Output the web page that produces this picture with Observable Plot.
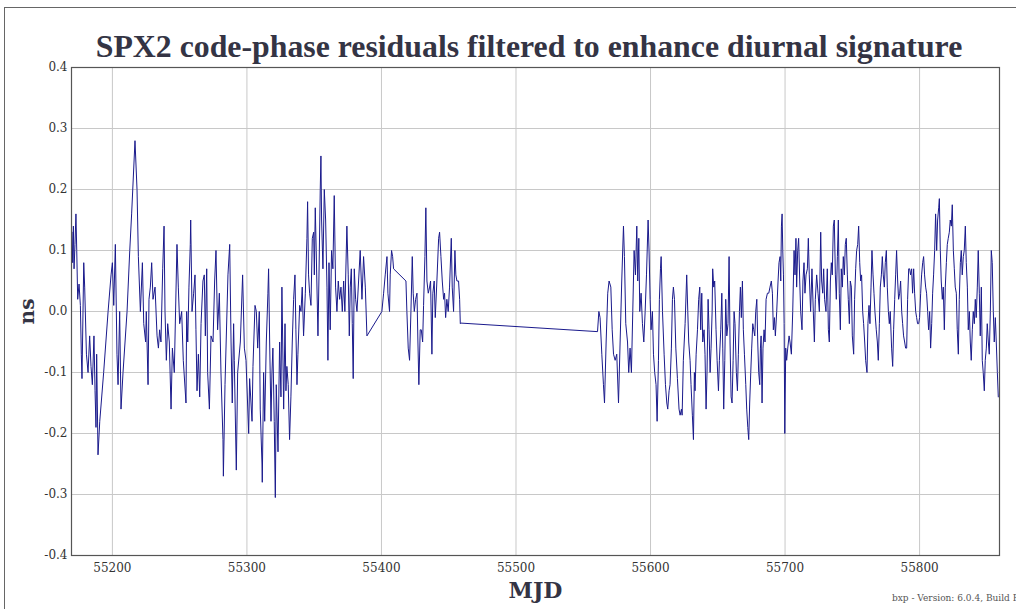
<!DOCTYPE html>
<html>
<head>
<meta charset="utf-8">
<script src="https://cdn.jsdelivr.net/npm/d3@7"></script>
<script src="https://cdn.jsdelivr.net/npm/@observablehq/plot@0.6"></script>
<style>
  html, body { margin: 0; padding: 0; background: #fff; overflow: hidden; }
  #wrap { position: relative; width: 1016px; height: 609px; overflow: hidden; }
  #border { position: absolute; left: 4px; top: 7px; width: 1200px; height: 800px; border-left: 1px solid #666; border-top: 1px solid #666; pointer-events: none; }
  #title { height: 60px; box-sizing: border-box; padding-top: 31px; line-height: 31px; text-align: center; padding-left: 42px;
           font-family: "Liberation Serif", serif; font-weight: bold; font-size: 31.8px; color: #343444; white-space: nowrap; }
  #credit { position: absolute; left: 892px; top: 593px; font-family: "DejaVu Serif", serif; font-size: 9px; color: #555; white-space: nowrap; }
  #chart svg { display: block; }
</style>
</head>
<body>
<div id="wrap">
  <div id="border"></div>
  <div id="title">SPX2 code-phase residuals filtered to enhance diurnal signature</div>
  <div id="chart"></div>
  <div id="credit">bxp - Version: 6.0.4, Build R</div>
</div>
<script>
const xTicks = [55200, 55300, 55400, 55500, 55600, 55700, 55800];
const yTicks = [-0.4, -0.3, -0.2, -0.1, 0.0, 0.1, 0.2, 0.3, 0.4];
const xLabel = "MJD";
const yLabel = "ns";

const mjd = [
55170.0,55170.5,55171.0,55171.5,55172.2,55172.9,55173.5,55174.2,55175.2,55176.2,55176.9,55177.4,55178.7,55179.4,55180.7,55181.9,55183.1,55184.1,55185.1,55186.3,
55187.1,55187.8,55188.3,55189.3,55190.6,55193.5,55196.8,55199.0,55200.0,55201.0,55202.2,55203.4,55204.2,55205.4,55206.4,55207.9,55210.9,55212.9,55214.3,55216.8,
55218.3,55219.3,55220.8,55222.3,55223.3,55224.7,55225.2,55226.5,55227.2,55228.2,55229.2,55230.2,55231.7,55233.2,55234.2,55235.1,55236.1,55237.4,55238.4,55239.1,
55240.1,55241.1,55242.3,55243.6,55244.6,55246.0,55248.0,55249.0,55250.0,55251.5,55252.7,55254.7,55255.2,55256.0,55256.9,55257.9,55258.2,55259.2,55260.4,55261.4,
55262.1,55262.9,55263.9,55264.9,55265.9,55267.3,55268.3,55269.1,55270.1,55270.8,55272.1,55273.3,55274.8,55276.0,55277.0,55278.2,55279.5,55280.7,55282.2,55282.5,
55283.7,55285.9,55287.2,55288.2,55289.1,55290.1,55290.6,55292.1,55293.1,55295.1,55296.8,55298.1,55299.3,55301.3,55302.0,55303.8,55304.5,55306.0,55307.0,55308.0,
55309.2,55309.9,55311.2,55311.4,55312.4,55313.2,55314.4,55315.6,55316.1,55316.9,55317.9,55318.6,55319.3,55320.3,55321.1,55321.8,55323.1,55324.3,55325.3,55326.0,
55327.3,55328.3,55329.0,55329.7,55330.7,55331.7,55332.7,55333.7,55334.7,55335.7,55336.4,55337.2,55337.9,55339.2,55340.2,55341.1,55342.1,55343.4,55344.6,55345.1,
55345.8,55346.6,55347.6,55348.6,55349.6,55350.1,55350.8,55351.5,55352.8,55353.5,55354.5,55355.0,55355.5,55356.5,55357.5,55358.5,55359.5,55360.2,55361.0,55361.9,
55362.9,55363.9,55364.9,55365.9,55366.9,55367.9,55368.9,55369.9,55370.9,55371.9,55372.8,55374.3,55375.3,55376.1,55376.8,55377.6,55378.3,55379.0,55379.8,55380.8,
55381.8,55383.0,55384.2,55385.5,55386.7,55388.0,55389.2,55400.3,55401.6,55402.8,55404.1,55404.8,55406.0,55406.5,55407.5,55408.3,55409.0,55418.2,55418.9,55419.9,
55420.9,55421.9,55422.9,55423.6,55424.4,55425.4,55426.4,55427.1,55427.8,55428.8,55429.6,55430.6,55431.3,55432.3,55433.0,55433.8,55434.8,55435.8,55436.5,55437.5,
55438.2,55439.2,55440.0,55441.2,55442.5,55443.2,55444.2,55445.2,55446.2,55446.9,55447.7,55448.6,55449.6,55450.6,55451.9,55452.6,55453.6,55454.6,55455.3,55456.1,
55457.3,55458.1,55458.6,55459.0,55560.6,55561.6,55562.5,55563.8,55565.0,55565.8,55567.0,55568.2,55569.2,55570.5,55571.5,55572.5,55573.7,55574.9,55576.2,55577.4,
55578.6,55579.9,55580.6,55581.6,55582.9,55583.8,55584.8,55585.8,55586.8,55587.8,55588.8,55589.8,55590.5,55591.3,55592.0,55593.0,55594.0,55595.0,55596.0,55597.0,
55598.2,55598.9,55599.7,55600.4,55601.4,55602.2,55603.1,55604.1,55604.9,55605.9,55606.6,55607.4,55607.9,55608.9,55610.1,55611.1,55612.1,55612.8,55613.8,55614.5,
55615.5,55616.3,55617.0,55617.8,55618.8,55620.0,55621.2,55622.0,55623.0,55623.5,55624.4,55625.7,55626.9,55627.7,55628.4,55629.4,55630.1,55631.1,55631.9,55632.6,
55633.1,55633.9,55634.9,55635.8,55636.6,55637.3,55638.1,55638.8,55639.8,55640.5,55641.3,55642.0,55642.8,55643.5,55644.3,55645.0,55645.8,55646.2,55647.0,55647.7,
55648.7,55649.5,55650.5,55651.2,55652.2,55653.0,55653.7,55654.4,55655.2,55655.9,55656.7,55657.6,55658.4,55659.1,55659.9,55660.6,55661.4,55662.1,55662.8,55663.8,
55664.6,55665.3,55666.1,55666.8,55667.5,55668.3,55669.0,55669.8,55670.8,55671.5,55672.3,55673.0,55673.7,55674.5,55675.2,55676.0,55676.7,55677.5,55678.2,55679.0,
55679.7,55680.4,55681.2,55681.7,55682.2,55682.9,55683.6,55684.4,55685.1,55685.9,55686.9,55687.9,55688.8,55689.8,55690.6,55691.3,55692.1,55692.8,55693.8,55694.8,
55695.5,55696.3,55696.8,55697.3,55697.8,55698.3,55698.8,55699.3,55699.8,55700.5,55701.2,55702.0,55703.0,55703.7,55704.7,55705.7,55706.7,55707.4,55708.1,55708.6,
55709.4,55710.1,55710.9,55711.6,55712.6,55713.3,55714.1,55714.8,55715.6,55716.6,55717.3,55718.0,55719.0,55720.0,55721.0,55721.8,55722.5,55723.5,55724.5,55725.5,
55726.5,55727.2,55728.0,55728.7,55729.4,55730.4,55731.4,55732.2,55732.9,55733.7,55734.4,55735.1,55735.9,55736.6,55737.4,55738.1,55738.9,55739.6,55740.3,55741.1,
55741.8,55742.6,55743.3,55744.1,55744.8,55745.5,55746.3,55747.0,55747.8,55748.5,55749.3,55750.0,55751.0,55751.7,55752.5,55753.2,55754.0,55754.7,55755.5,55756.2,
55756.9,55757.7,55758.4,55759.2,55759.9,55760.9,55761.6,55762.4,55763.1,55763.9,55764.6,55765.4,55766.1,55766.8,55767.8,55768.6,55769.3,55770.1,55770.8,55771.6,
55772.3,55773.0,55773.8,55774.5,55775.3,55776.0,55776.8,55777.5,55778.2,55779.2,55780.0,55780.7,55781.5,55782.2,55782.9,55783.7,55784.4,55785.2,55785.9,55786.7,
55787.4,55788.1,55788.9,55789.6,55790.4,55791.1,55791.9,55792.6,55793.3,55794.1,55794.8,55795.6,55796.3,55797.1,55797.8,55798.5,55799.3,55800.0,55800.8,55801.5,
55802.3,55803.0,55803.7,55804.5,55805.2,55806.0,55806.7,55807.5,55808.2,55809.0,55809.7,55810.4,55811.2,55811.9,55812.7,55813.4,55814.2,55814.7,55815.4,55816.1,
55816.9,55817.6,55818.4,55819.1,55819.9,55820.6,55821.3,55822.1,55822.8,55823.6,55824.3,55825.1,55825.8,55826.5,55827.3,55828.0,55828.8,55829.5,55830.3,55831.0,
55831.7,55832.5,55833.2,55834.0,55834.7,55835.5,55836.2,55837.0,55837.7,55838.4,55839.2,55839.9,55840.7,55841.4,55842.1,55842.9,55843.6,55844.4,55845.1,55845.9,
55846.6,55847.3,55848.1,55848.8,55849.6,55850.3,55851.1,55851.8,55852.6,55853.3,55854.0,55854.8,55855.5,55856.3,55857.0,55857.8,55858.5
];

const ns = [
0.13,0.08,0.14,0.07,0.11,0.16,0.10,0.02,0.045,0.01,-0.07,-0.11,0.08,0.04,-0.07,-0.10,-0.04,-0.09,-0.12,-0.04,
-0.13,-0.19,-0.07,-0.235,-0.18,-0.10,0.0,0.06,0.08,0.01,0.11,-0.07,-0.12,0.0,-0.16,-0.10,0.0,0.10,0.16,0.28,
0.20,0.09,0.0,0.08,-0.02,-0.05,0.0,-0.12,0.02,0.04,0.08,0.02,0.04,-0.04,-0.06,-0.03,-0.05,0.07,0.14,0.0,
-0.08,-0.02,-0.05,-0.16,-0.06,-0.10,0.11,0.04,-0.02,0.0,-0.08,-0.15,0.0,-0.05,0.04,0.11,0.15,0.0,0.03,0.06,
-0.03,-0.13,-0.07,-0.14,-0.02,0.05,0.06,-0.04,0.07,-0.10,-0.16,-0.04,-0.05,0.05,0.10,-0.03,0.03,-0.10,-0.21,-0.27,
-0.12,0.06,0.11,-0.05,-0.15,-0.02,-0.08,-0.26,-0.10,-0.05,0.06,-0.06,-0.08,-0.20,-0.11,-0.18,-0.09,0.01,0.0,-0.06,
0.0,-0.16,-0.25,-0.28,-0.10,-0.18,-0.05,0.03,0.07,-0.05,-0.18,-0.10,-0.06,-0.18,-0.305,-0.12,-0.23,-0.05,-0.14,0.04,
-0.16,-0.02,-0.13,-0.09,-0.12,-0.21,-0.14,-0.05,0.02,0.06,-0.03,-0.12,-0.07,0.01,0.0,0.04,-0.04,0.03,0.12,0.18,
0.06,0.03,0.01,0.12,0.13,0.06,0.17,0.10,-0.04,0.05,0.20,0.255,0.15,0.07,0.20,0.15,0.04,-0.08,0.08,-0.03,
0.10,0.07,0.19,0.04,0.0,0.05,0.02,0.04,0.0,0.05,0.0,0.14,0.06,-0.04,0.04,0.07,-0.02,-0.11,0.07,0.02,
0.0,0.05,0.10,0.02,0.09,0.04,-0.04,0.0,0.03,0.06,0.09,0.03,0.0,0.06,0.10,0.09,0.07,0.05,0.0,-0.06,
-0.08,0.0,0.09,0.03,0.0,0.02,0.03,-0.05,-0.12,-0.03,-0.03,-0.05,0.01,0.09,0.17,0.05,0.03,0.04,0.05,-0.07,
0.03,0.05,-0.01,0.05,0.12,0.13,0.09,0.05,0.02,0.03,-0.01,0.02,0.0,0.04,0.12,0.04,0.0,0.10,0.06,0.05,
0.05,0.02,-0.02,-0.019,-0.033,0.0,-0.01,-0.07,-0.12,-0.15,-0.05,0.03,0.05,0.04,-0.03,-0.07,-0.08,-0.07,-0.15,-0.05,
0.05,0.14,0.09,-0.02,-0.05,-0.10,-0.06,-0.10,0.0,0.10,0.06,0.14,0.05,0.12,0.0,0.03,-0.02,-0.05,0.0,0.06,
0.15,0.10,0.02,-0.03,0.0,-0.07,-0.10,-0.12,-0.18,-0.08,0.02,0.07,0.09,0.0,-0.07,-0.12,-0.15,-0.16,-0.13,-0.12,
-0.06,0.02,0.04,0.02,-0.06,-0.11,-0.16,-0.17,-0.16,-0.17,-0.08,-0.02,0.06,0.0,-0.05,-0.08,-0.12,-0.17,-0.21,-0.10,
-0.13,-0.07,-0.03,0.02,0.04,-0.03,0.03,-0.05,-0.03,-0.07,-0.16,-0.10,0.02,-0.03,-0.10,-0.06,0.0,0.07,0.04,0.05,
-0.03,-0.08,-0.13,-0.08,-0.03,0.03,-0.06,-0.16,-0.08,0.02,-0.04,-0.02,0.09,-0.05,-0.14,-0.15,-0.08,0.0,-0.02,-0.10,
-0.13,-0.07,0.0,0.04,-0.01,0.05,-0.03,-0.07,-0.12,-0.16,-0.19,-0.21,-0.15,-0.10,-0.06,-0.02,-0.03,-0.04,0.0,0.02,
-0.05,-0.10,-0.12,-0.06,-0.04,-0.15,-0.06,-0.03,-0.05,0.02,0.03,0.03,0.04,0.05,0.03,-0.03,-0.01,-0.04,0.0,0.05,
0.08,0.09,0.05,0.14,0.16,0.10,0.06,-0.02,-0.20,-0.06,-0.08,-0.06,-0.04,-0.05,-0.07,0.0,0.10,0.06,0.12,0.04,
0.10,0.12,0.05,0.0,-0.03,0.05,0.08,0.03,0.06,0.07,0.12,0.06,0.0,0.07,0.0,-0.05,0.02,0.06,0.03,0.0,
0.13,0.05,0.03,0.07,0.02,0.0,0.07,-0.03,-0.05,0.05,0.08,0.06,0.14,0.15,0.06,0.02,0.09,0.15,0.03,-0.03,
0.07,0.04,0.09,0.06,0.11,0.12,0.06,0.02,-0.02,0.05,0.04,-0.04,-0.07,0.02,0.07,0.10,0.11,0.14,0.08,0.05,
0.06,0.0,-0.02,-0.05,-0.08,-0.10,-0.02,0.01,-0.02,0.04,0.10,0.06,0.03,0.0,-0.03,-0.05,-0.08,-0.02,0.04,0.06,
0.09,0.06,0.04,0.08,0.10,0.04,0.0,-0.02,0.0,-0.06,-0.09,-0.03,0.02,0.06,0.10,0.05,0.02,0.03,0.05,0.0,
-0.02,-0.04,-0.05,-0.06,-0.06,0.02,0.07,0.07,0.06,0.07,0.03,0.07,0.03,0.0,-0.01,-0.02,-0.02,-0.01,0.03,0.06,
0.08,0.09,0.06,0.04,0.03,0.0,-0.03,0.0,-0.06,-0.02,0.03,0.06,0.10,0.16,0.10,0.15,0.17,0.185,0.10,0.05,
0.02,0.04,-0.03,0.04,0.08,0.11,0.12,0.13,0.15,0.14,0.175,0.10,0.07,0.04,0.03,-0.03,-0.07,0.02,0.08,0.10,
0.06,0.09,0.10,0.14,0.08,0.04,-0.03,0.0,-0.05,-0.08,-0.03,0.0,-0.02,0.02,-0.01,0.04,0.10,0.03,-0.04,0.04,
-0.08,-0.10,-0.13,-0.08,-0.06,-0.02,-0.05,-0.07,0.0,0.10,0.08,0.0,-0.05,-0.01,-0.05,-0.10,-0.14
];

const data = mjd.map((m, i) => ({mjd: m, ns: ns[i]}));

const fmtY = d => d.toFixed(1);

const chart = Plot.plot({
  width: 1016,
  height: 549,
  marginTop: 7,
  marginLeft: 71,
  marginRight: 17,
  marginBottom: 54,
  style: {fontFamily: "'DejaVu Serif', serif", fontSize: "12px", color: "#333", background: "transparent"},
  x: {domain: [55169.6, 55859.4], label: null},
  y: {domain: [-0.4, 0.4], label: null},
  marks: [
    Plot.gridX(xTicks, {stroke: "#c8c8c8", strokeOpacity: 1}),
    Plot.gridY(yTicks, {stroke: "#c8c8c8", strokeOpacity: 1}),
    Plot.line(data, {x: "mjd", y: "ns", stroke: "#1a1a8c", strokeWidth: 1}),
    Plot.frame({stroke: "#555", strokeWidth: 1.2}),
    Plot.axisX(xTicks, {tickSize: 0, tickPadding: 8, tickFormat: d => String(d), label: null, fill: "#333"}),
    Plot.axisY(yTicks, {tickSize: 0, tickPadding: 4, tickFormat: fmtY, label: null, fill: "#333"}),
    Plot.text([xLabel], {text: d => d, frameAnchor: "bottom", dy: 35, textAnchor: "middle", lineAnchor: "middle", fontFamily: "'DejaVu Serif', serif", fontWeight: "bold", fontSize: 22, fill: "#343444"}),
    Plot.text([yLabel], {text: d => d, frameAnchor: "left", dx: -44, textAnchor: "middle", lineAnchor: "middle", rotate: -90, fontFamily: "'DejaVu Serif', serif", fontWeight: "bold", fontSize: 20, fill: "#343444"})
  ]
});
document.getElementById("chart").appendChild(chart);
</script>
</body>
</html>
